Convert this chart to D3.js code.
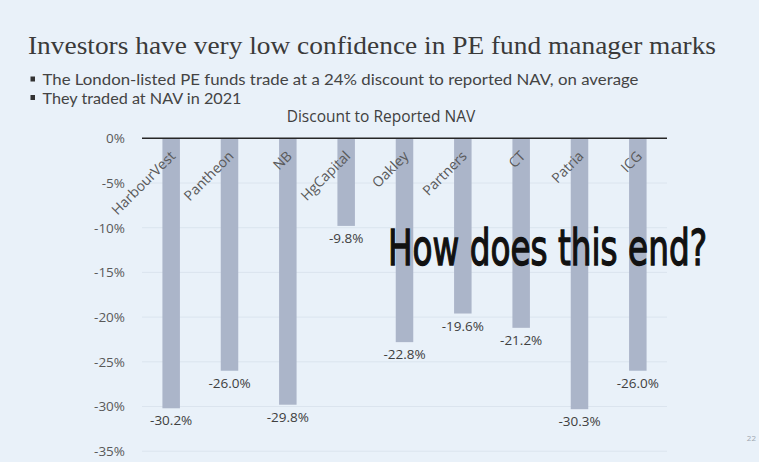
<!DOCTYPE html>
<html>
<head>
<meta charset="utf-8">
<script src="https://cdn.jsdelivr.net/npm/d3@7"></script>
<style>
  html, body { margin: 0; padding: 0; background: #e9f1f9; }
  svg { display: block; }
</style>
</head>
<body>
<svg id="chart" width="759" height="462"></svg>
<script>
// data
var funds = ["HarbourVest", "Pantheon", "NB", "HgCapital", "Oakley", "Partners", "CT", "Patria", "ICG"];
var discounts = [-30.2, -26.0, -29.8, -9.8, -22.8, -19.6, -21.2, -30.3, -26.0];
var yTicks = [0, -5, -10, -15, -20, -25, -30, -35];
var bullets = [
    "The London-listed PE funds trade at a 24% discount to reported NAV, on average",
    "They traded at NAV in 2021"
];

var svg = d3.select("#chart"),
    width = +svg.attr("width"),
    height = +svg.attr("height");

var sans = "'Open Sans', sans-serif";

svg.append("rect")
    .attr("width", width)
    .attr("height", height)
    .attr("fill", "#e9f1f9");

// slide title + bullets
svg.append("text")
    .attr("x", 28)
    .attr("y", 54)
    .attr("textLength", 688)
    .attr("lengthAdjust", "spacingAndGlyphs")
    .style("font-family", "'Liberation Serif', serif")
    .style("font-size", "25px")
    .attr("fill", "#3a3a3a")
    .text("Investors have very low confidence in PE fund manager marks");

var bulletLen = [596, 199];
var b = svg.append("g").selectAll("g")
    .data(bullets)
    .enter().append("g")
    .attr("transform", function (d, i) { return "translate(0," + (85 + i * 18.5) + ")"; });

b.append("rect")
    .attr("x", 30.5)
    .attr("y", -8.5)
    .attr("width", 4.5)
    .attr("height", 5)
    .attr("fill", "#333");

b.append("text")
    .attr("x", 42.5)
    .attr("textLength", function (d, i) { return bulletLen[i]; })
    .attr("lengthAdjust", "spacingAndGlyphs")
    .style("font-family", "Lato, sans-serif")
    .style("font-size", "16px")
    .attr("fill", "#444")
    .text(function (d) { return d; });

// chart
var y = d3.scaleLinear()
    .domain([-35, 0])
    .range([451.2, 138.3]);

var x = d3.scaleBand()
    .domain(funds)
    .range([142, 667])
    .paddingInner(0.7)
    .paddingOuter(0.35);

svg.append("text")
    .attr("x", 381)
    .attr("y", 122)
    .attr("text-anchor", "middle")
    .style("font-family", sans)
    .style("font-size", "15.5px")
    .attr("fill", "#404040")
    .text("Discount to Reported NAV");

// gridlines
svg.append("g")
    .selectAll("line")
    .data(yTicks.filter(function (t) { return t !== 0; }))
    .enter().append("line")
    .attr("x1", 142)
    .attr("x2", 667)
    .attr("y1", function (d) { return y(d); })
    .attr("y2", function (d) { return y(d); })
    .attr("stroke", "#dbe4ee")
    .attr("stroke-width", 1);

var yAxis = svg.append("g")
    .attr("transform", "translate(130,0)")
    .call(d3.axisLeft(y)
        .tickValues(yTicks)
        .tickSize(0)
        .tickPadding(5)
        .tickFormat(function (d) { return d + "%"; }));

yAxis.select(".domain").remove();
yAxis.selectAll("text")
    .style("font-family", sans)
    .style("font-size", "13.5px")
    .attr("fill", "#595959");

// bars
svg.append("g")
    .selectAll("rect")
    .data(discounts)
    .enter().append("rect")
    .attr("x", function (d, i) { return x(funds[i]); })
    .attr("y", y(0))
    .attr("width", x.bandwidth())
    .attr("height", function (d) { return y(d) - y(0); })
    .attr("fill", "#abb5c9");

// 0% axis line
svg.append("line")
    .attr("x1", 142)
    .attr("x2", 667)
    .attr("y1", y(0))
    .attr("y2", y(0))
    .attr("stroke", "#262626")
    .attr("stroke-width", 1.5);

// category labels, rotated
svg.append("g")
    .selectAll("text")
    .data(funds)
    .enter().append("text")
    .attr("transform", function (d) {
        return "translate(" + (x(d) + x.bandwidth() / 2 + 5) + ",157) rotate(-45)";
    })
    .attr("text-anchor", "end")
    .style("font-family", sans)
    .style("font-size", "14px")
    .attr("fill", "#595959")
    .text(function (d) { return d; });

// value labels
svg.append("g")
    .selectAll("text")
    .data(discounts)
    .enter().append("text")
    .attr("x", function (d, i) { return x(funds[i]) + x.bandwidth() / 2; })
    .attr("y", function (d) { return y(d) + 17; })
    .attr("text-anchor", "middle")
    .style("font-family", sans)
    .style("font-size", "13.5px")
    .attr("fill", "#404040")
    .text(function (d) { return d.toFixed(1) + "%"; });

// overlay text (a thin stroke gives it the medium weight of the slide font)
svg.append("text")
    .attr("x", 388)
    .attr("y", 265)
    .attr("textLength", 319)
    .attr("lengthAdjust", "spacingAndGlyphs")
    .style("font-family", "'DejaVu Sans Condensed', 'Liberation Sans Narrow', sans-serif")
    .style("font-size", "49px")
    .attr("fill", "#111")
    .attr("stroke", "#111")
    .attr("stroke-width", 1.3)
    .text("How does this end?");

svg.append("text")
    .attr("x", 756)
    .attr("y", 441)
    .attr("text-anchor", "end")
    .style("font-family", sans)
    .style("font-size", "8px")
    .attr("fill", "#a0a7b0")
    .text("22");
</script>
</body>
</html>
